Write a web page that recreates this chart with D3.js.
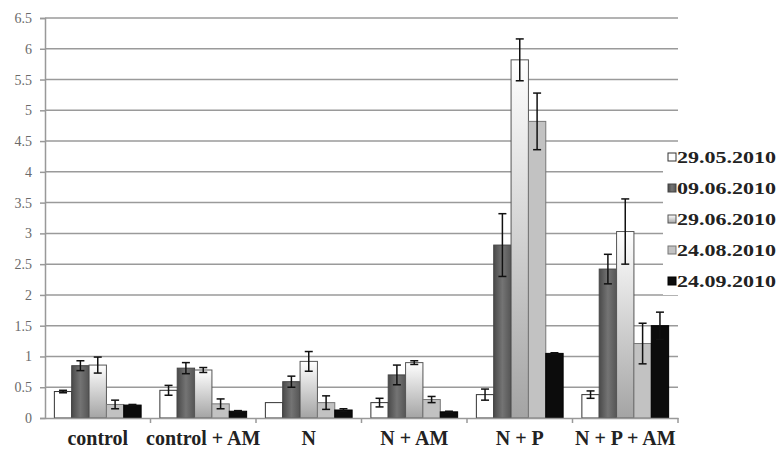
<!DOCTYPE html>
<html>
<head>
<meta charset="utf-8">
<script src="https://cdn.jsdelivr.net/npm/d3@7"></script>
<style>
  html, body { margin: 0; padding: 0; background: #fff; }
  svg { display: block; }
</style>
</head>
<body>
<div id="chart"></div>
<script>
const categories = ['control', 'control + AM', 'N', 'N + AM', 'N + P', 'N + P + AM'];
const dates = ['29.05.2010', '09.06.2010', '29.06.2010', '24.08.2010', '24.09.2010'];

// mean values per date, one entry per category
const values = [
  [0.43, 0.45, 0.25, 0.25, 0.38, 0.38],
  [0.85, 0.81, 0.59, 0.70, 2.81, 2.42],
  [0.86, 0.78, 0.92, 0.90, 5.82, 3.03],
  [0.22, 0.23, 0.25, 0.30, 4.82, 1.21],
  [0.21, 0.11, 0.13, 0.10, 1.05, 1.50]
];
// error half-widths
const errors = [
  [0.02, 0.08, 0.00, 0.07, 0.09, 0.06],
  [0.08, 0.09, 0.09, 0.16, 0.51, 0.24],
  [0.13, 0.04, 0.16, 0.03, 0.34, 0.53],
  [0.07, 0.08, 0.11, 0.05, 0.46, 0.33],
  [0.01, 0.01, 0.02, 0.01, 0.01, 0.22]
];
const yTicks = [0, 0.5, 1, 1.5, 2, 2.5, 3, 3.5, 4, 4.5, 5, 5.5, 6, 6.5];

const width = 779, height = 453;
const margin = { top: 18, right: 101, bottom: 35, left: 45 };
const innerW = width - margin.left - margin.right;
const innerH = height - margin.top - margin.bottom;
const serif = '"Liberation Serif", "DejaVu Serif", serif';

const svg = d3.select('#chart').append('svg')
  .attr('width', width)
  .attr('height', height);

const defs = svg.append('defs');
const darkGrad = defs.append('linearGradient').attr('id', 'g-dark')
  .attr('x1', 0).attr('x2', 1).attr('y1', 0).attr('y2', 0);
darkGrad.append('stop').attr('offset', '0%').attr('stop-color', '#4a4a4a');
darkGrad.append('stop').attr('offset', '50%').attr('stop-color', '#747474');
darkGrad.append('stop').attr('offset', '100%').attr('stop-color', '#555');

const lightGrad = defs.append('linearGradient').attr('id', 'g-light')
  .attr('x1', 0).attr('x2', 0).attr('y1', 0).attr('y2', 1);
lightGrad.append('stop').attr('offset', '0%').attr('stop-color', '#ffffff');
lightGrad.append('stop').attr('offset', '100%').attr('stop-color', '#a4a4a4');

const fills = ['#ffffff', 'url(#g-dark)', 'url(#g-light)', '#c2c2c2', '#0c0c0c'];
const strokes = ['#333', '#444', '#555', '#777', '#000'];

const g = svg.append('g').attr('transform', `translate(${margin.left},${margin.top})`);

const x0 = d3.scaleBand().domain(categories).range([0, innerW]).padding(0);
const x1 = d3.scaleBand().domain(d3.range(dates.length))
  .range([0, x0.bandwidth()]).paddingInner(0).paddingOuter(0.54);
const y = d3.scaleLinear().domain([0, 6.5]).range([innerH, 0]);

// gridlines
g.append('g')
  .selectAll('line')
  .data(yTicks.filter(d => d > 0))
  .join('line')
  .attr('x1', 0).attr('x2', innerW)
  .attr('y1', d => y(d)).attr('y2', d => y(d))
  .attr('stroke', '#9a9a9a')
  .attr('stroke-width', 1.5);

// y axis
const yAxis = g.append('g')
  .call(d3.axisLeft(y).tickValues(yTicks).tickSize(5).tickPadding(8)
    .tickFormat(d => String(d)));
yAxis.select('.domain').attr('stroke', '#999').attr('stroke-width', 1.5);
yAxis.selectAll('.tick line').attr('stroke', '#999').attr('stroke-width', 1.5);
yAxis.selectAll('text')
  .attr('fill', '#6a6a6a')
  .style('font-family', serif)
  .style('font-size', '14px');

// bars
const groups = g.append('g').selectAll('g')
  .data(categories)
  .join('g')
  .attr('transform', d => `translate(${x0(d)},0)`);

groups.each(function (cat, ci) {
  const sel = d3.select(this);
  const rows = dates.map((dt, si) => ({ si, v: values[si][ci], e: errors[si][ci] }));

  sel.selectAll('rect')
    .data(rows)
    .join('rect')
    .attr('x', d => x1(d.si))
    .attr('width', x1.bandwidth())
    .attr('y', d => y(d.v))
    .attr('height', d => y(0) - y(d.v))
    .attr('fill', d => fills[d.si])
    .attr('stroke', d => strokes[d.si])
    .attr('stroke-width', 1);

  const err = sel.selectAll('g.err')
    .data(rows.filter(d => d.e > 0))
    .join('g')
    .attr('class', 'err')
    .attr('stroke', '#111')
    .attr('stroke-width', 1.5);
  const cx = d => x1(d.si) + x1.bandwidth() / 2;
  err.append('line')
    .attr('x1', cx).attr('x2', cx)
    .attr('y1', d => y(d.v + d.e)).attr('y2', d => y(d.v - d.e));
  err.append('line')
    .attr('x1', d => cx(d) - 4).attr('x2', d => cx(d) + 4)
    .attr('y1', d => y(d.v + d.e)).attr('y2', d => y(d.v + d.e));
  err.append('line')
    .attr('x1', d => cx(d) - 4).attr('x2', d => cx(d) + 4)
    .attr('y1', d => y(d.v - d.e)).attr('y2', d => y(d.v - d.e));
});

// x axis
const xAxis = g.append('g')
  .attr('transform', `translate(0,${innerH})`)
  .call(d3.axisBottom(x0).tickSize(0).tickPadding(13));
xAxis.select('.domain').attr('stroke', '#999').attr('stroke-width', 1.5);
xAxis.selectAll('text')
  .attr('fill', '#222')
  .style('font-family', serif)
  .style('font-weight', 'bold')
  .style('font-size', '20px');

// boundary ticks between categories
g.append('g')
  .attr('transform', `translate(0,${innerH})`)
  .selectAll('line')
  .data(categories.slice(1).concat(['__end']))
  .join('line')
  .attr('x1', d => d === '__end' ? innerW : x0(d))
  .attr('x2', d => d === '__end' ? innerW : x0(d))
  .attr('y1', 0).attr('y2', 5)
  .attr('stroke', '#999')
  .attr('stroke-width', 1.5);

// legend
const legend = svg.append('g').attr('transform', 'translate(663,143)');
legend.append('rect')
  .attr('width', 116).attr('height', 152)
  .attr('fill', '#fff');
const items = legend.selectAll('g.item')
  .data(dates)
  .join('g')
  .attr('class', 'item')
  .attr('transform', (d, i) => `translate(5,${14 + i * 31})`);
items.append('rect')
  .attr('x', 0).attr('y', -4)
  .attr('width', 8).attr('height', 8)
  .attr('fill', (d, i) => fills[i])
  .attr('stroke', (d, i) => strokes[i])
  .attr('stroke-width', 1);
items.append('text')
  .attr('x', 9)
  .attr('dy', '0.35em')
  .attr('fill', '#222')
  .attr('textLength', 99)
  .attr('lengthAdjust', 'spacingAndGlyphs')
  .style('font-family', serif)
  .style('font-weight', 'bold')
  .style('font-size', '17px')
  .text(d => d);
</script>
</body>
</html>
